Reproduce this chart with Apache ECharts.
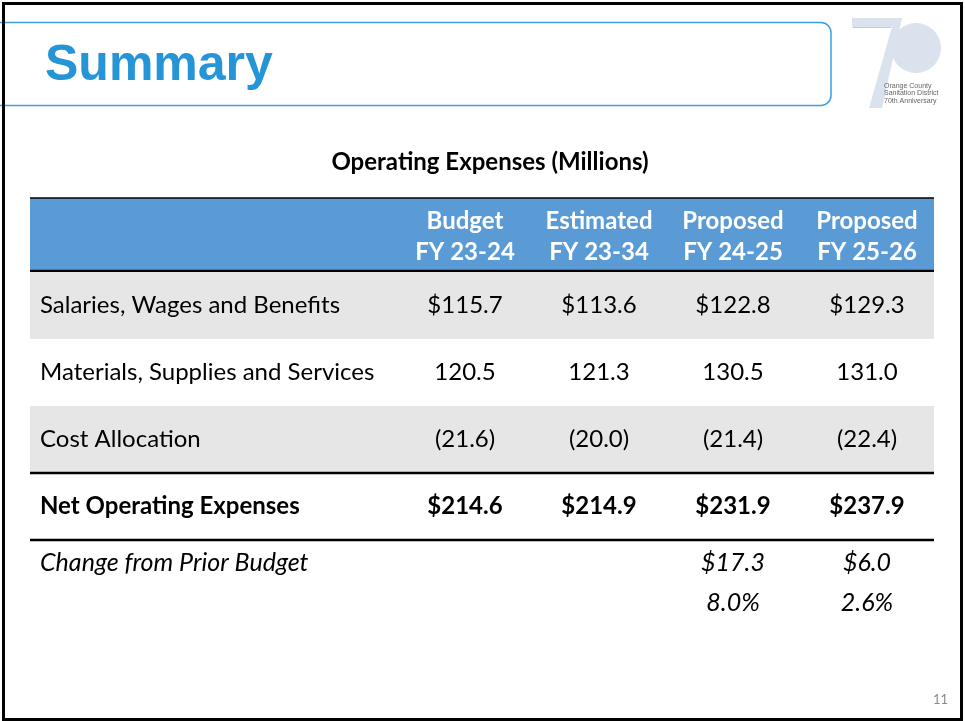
<!DOCTYPE html>
<html>
<head>
<meta charset="utf-8">
<title>Summary</title>
<script src="https://cdn.jsdelivr.net/npm/echarts@6/dist/echarts.min.js"></script>
<style>
  html, body { margin: 0; padding: 0; background: #fff; }
  #main { width: 965px; height: 721px; }
</style>
</head>
<body>
<div id="main"></div>
<script>
  // table data, in millions
  const columns = ['Budget\nFY 23-24', 'Estimated\nFY 23-34', 'Proposed\nFY 24-25', 'Proposed\nFY 25-26'];
  const rowNames = ['Salaries, Wages and Benefits', 'Materials, Supplies and Services', 'Cost Allocation', 'Net Operating Expenses'];
  const salaries = [115.7, 113.6, 122.8, 129.3];
  const materials = [120.5, 121.3, 130.5, 131.0];
  const costAllocation = [-21.6, -20.0, -21.4, -22.4];
  const netOperating = [214.6, 214.9, 231.9, 237.9];
  const changeRowNames = ['Change from Prior Budget', ''];
  const changeAmount = [null, null, 17.3, 6.0];
  const changePercent = [null, null, 8.0, 2.6];

  // layout
  const tableLeft = 30;
  const labelWidth = 368;
  const tableRight = 934;
  const headerTop = 198;
  const bodyTop = 272;
  const bodyHeight = 268;
  const changeTop = 543;
  const changeHeight = 80;
  const font = 'Lato';
  const fontSize = 24;
  const italicSize = 25;

  const money = v => '$' + v.toFixed(1);
  const plain = v => v < 0 ? '(' + Math.abs(v).toFixed(1) + ')' : v.toFixed(1);
  const percent = v => v.toFixed(1) + '%';

  const rowValues = [salaries, materials, costAllocation, netOperating];
  const rowFormats = [money, plain, plain, money];
  const netRow = 3;

  // cells of the number columns
  const numberCells = [];
  rowValues.forEach((vals, r) => {
    vals.forEach((v, c) => {
      numberCells.push({ col: c, row: r, text: rowFormats[r](v), bold: r === netRow });
    });
  });
  const labelCells = rowNames.map((n, r) => ({ col: 0, row: r, text: n, bold: r === netRow }));

  const changeCells = [];
  changeAmount.forEach((v, c) => {
    if (v !== null) changeCells.push({ col: c, row: 0, text: money(v) });
  });
  changePercent.forEach((v, c) => {
    if (v !== null) changeCells.push({ col: c, row: 1, text: percent(v) });
  });
  const changeLabelCells = changeRowNames.map((n, r) => ({ col: 0, row: r, text: n }));

  const cellRenderer = (cells, alignLeft, italic) => function (params, api) {
    const cell = cells[params.dataIndex];
    const p = api.coord([api.value(0), api.value(1)]);
    const size = api.size([1, 1]);
    const x0 = p[0] - size[0] / 2;
    const children = [{
      type: 'text',
      style: {
        x: alignLeft ? x0 + 10 : p[0],
        y: p[1],
        text: cell.text,
        align: alignLeft ? 'left' : 'center',
        verticalAlign: 'middle',
        fontFamily: font,
        fontSize: italic ? italicSize : fontSize,
        fontWeight: cell.bold ? 'bold' : 'normal',
        fontStyle: italic ? 'italic' : 'normal',
        fill: '#000'
      }
    }];
    // heavy rules above and below the total row
    if (cell.bold) {
      [p[1] - size[1] / 2, p[1] + size[1] / 2].forEach(y => {
        children.push({
          type: 'line',
          shape: { x1: x0, y1: y, x2: x0 + size[0], y2: y },
          style: { stroke: '#000', lineWidth: 2.5 }
        });
      });
    }
    return { type: 'group', children: children };
  };

  const hiddenX = (gridIndex, data) => ({ gridIndex, type: 'category', data, show: false });
  const rowAxis = (gridIndex, data, striped) => ({
    gridIndex,
    type: 'category',
    data,
    inverse: true,
    axisLine: { show: false },
    axisTick: { show: false },
    axisLabel: { show: false },
    splitLine: { show: false },
    splitArea: { show: striped, areaStyle: { color: ['#e7e6e6', '#ffffff'] } }
  });

  const chart = echarts.init(document.getElementById('main'), null, { renderer: 'canvas' });
  chart.setOption({
    animation: false,
    backgroundColor: '#fff',
    title: {
      text: 'Operating Expenses (Millions)',
      left: 485,
      top: 145,
      textAlign: 'center',
      textStyle: { fontFamily: font, fontSize: 24, fontWeight: 'bold', color: '#000' }
    },
    grid: [
      { left: tableLeft, top: bodyTop, width: labelWidth, height: bodyHeight },
      { left: tableLeft + labelWidth, top: bodyTop, width: tableRight - tableLeft - labelWidth, height: bodyHeight },
      { left: tableLeft, top: changeTop, width: labelWidth, height: changeHeight },
      { left: tableLeft + labelWidth, top: changeTop, width: tableRight - tableLeft - labelWidth, height: changeHeight }
    ],
    xAxis: [
      hiddenX(0, ['label']),
      {
        gridIndex: 1,
        type: 'category',
        data: columns,
        position: 'top',
        axisLine: { show: false },
        axisTick: { show: false },
        axisLabel: {
          interval: 0,
          color: '#fff',
          fontFamily: font,
          fontSize: fontSize,
          fontWeight: 'bold',
          lineHeight: 31,
          margin: 35,
          verticalAlign: 'middle'
        }
      },
      hiddenX(2, ['label']),
      hiddenX(3, columns)
    ],
    yAxis: [
      rowAxis(0, rowNames, true),
      rowAxis(1, rowNames, true),
      rowAxis(2, changeRowNames, false),
      rowAxis(3, changeRowNames, false)
    ],
    series: [
      {
        type: 'custom', xAxisIndex: 0, yAxisIndex: 0,
        data: labelCells.map(c => [c.col, c.row]),
        renderItem: cellRenderer(labelCells, true, false)
      },
      {
        type: 'custom', xAxisIndex: 1, yAxisIndex: 1,
        data: numberCells.map(c => [c.col, c.row]),
        renderItem: cellRenderer(numberCells, false, false)
      },
      {
        type: 'custom', xAxisIndex: 2, yAxisIndex: 2,
        data: changeLabelCells.map(c => [c.col, c.row]),
        renderItem: cellRenderer(changeLabelCells, true, true)
      },
      {
        type: 'custom', xAxisIndex: 3, yAxisIndex: 3,
        data: changeCells.map(c => [c.col, c.row]),
        renderItem: cellRenderer(changeCells, false, true)
      }
    ],
    graphic: [
      // header band
      {
        type: 'rect', z: -1,
        shape: { x: tableLeft, y: headerTop, width: tableRight - tableLeft, height: bodyTop - headerTop },
        style: { fill: '#5b9bd5' }
      },
      {
        type: 'line',
        shape: { x1: tableLeft, y1: headerTop, x2: tableRight, y2: headerTop },
        style: { stroke: '#000', lineWidth: 1.5 }
      },
      {
        type: 'line',
        shape: { x1: tableLeft, y1: bodyTop - 1, x2: tableRight, y2: bodyTop - 1 },
        style: { stroke: '#000', lineWidth: 2.5 }
      },
      // title box
      {
        type: 'rect',
        shape: { x: -20, y: 22.5, width: 851, height: 83, r: 10 },
        style: { fill: 'none', stroke: '#3a9ee0', lineWidth: 1.5 }
      },
      {
        type: 'text',
        style: {
          x: 45, y: 66, text: 'Summary',
          font: 'bold 50px "Liberation Sans", Arial, sans-serif',
          verticalAlign: 'middle',
          fill: '#2695d7'
        }
      },
      // 70th anniversary logo
      {
        type: 'polygon',
        shape: { points: [[852, 18], [902, 18], [882, 108], [869, 108], [892, 27], [852, 27]] },
        style: { fill: '#dae2ed' }
      },
      {
        type: 'line',
        shape: { x1: 853, y1: 27.5, x2: 891, y2: 27.5 },
        style: { stroke: '#d2c8b4', lineWidth: 1 }
      },
      {
        type: 'circle',
        shape: { cx: 916, cy: 48, r: 25 },
        style: { fill: '#dae2ed' }
      },
      {
        type: 'text',
        style: {
          x: 884, y: 82, text: 'Orange County\nSanitation District\n70th Anniversary',
          fontFamily: 'Liberation Sans', fontSize: 7, lineHeight: 7.5, fill: '#666'
        }
      },
      // page number
      {
        type: 'text',
        style: { x: 948, y: 700, text: '11', align: 'right', verticalAlign: 'middle', fontFamily: font, fontSize: 13, fill: '#8a8a8a' }
      },
      // slide frame
      {
        type: 'rect',
        shape: { x: 3.5, y: 3.5, width: 958, height: 716 },
        style: { fill: 'none', stroke: '#000', lineWidth: 3 }
      }
    ]
  });

  window.onresize = function () {
    chart.resize();
  };
</script>
</body>
</html>
